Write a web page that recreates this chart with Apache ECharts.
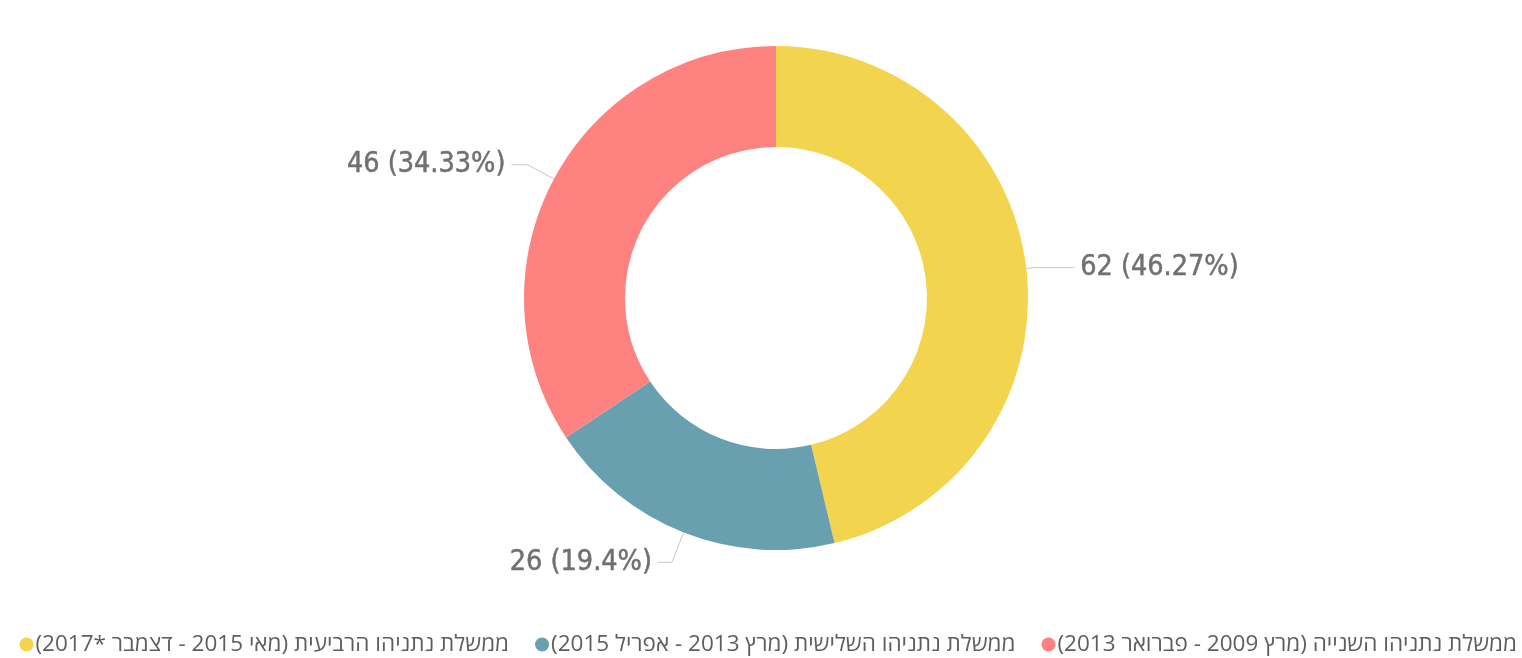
<!DOCTYPE html>
<html>
<head>
<meta charset="utf-8">
<script src="https://cdn.jsdelivr.net/npm/echarts@6/dist/echarts.min.js"></script>
<style>
html,body{margin:0;padding:0;background:#fff;}
#chart{width:1522px;height:658px;}
</style>
</head>
<body>
<div id="chart"></div>
<script>
const categories = [
  'ממשלת נתניהו הרביעית (מאי 2015 - דצמבר *2017)\u200F',
  'ממשלת נתניהו השלישית (מרץ 2013 - אפריל 2015)\u200F',
  'ממשלת נתניהו השנייה (מרץ 2009 - פברואר 2013)\u200F'
];
const values = [62, 26, 46];
const colors = ['#F3D44E', '#69A0B0', '#FD8280'];
const lineLengths = [[8, 40], [32, 14], [30, 16]];

const chart = echarts.init(document.getElementById('chart'));
chart.setOption({
  backgroundColor: '#ffffff',
  animation: false,
  legend: {
    top: 628,
    right: 0,
    padding: 5,
    itemGap: 26,
    itemWidth: 14,
    itemHeight: 14,
    icon: 'circle',
    textStyle: { fontFamily: 'Open Sans', fontSize: 22.5, color: '#605e5c', padding: [0, 0, 0, -3] },
    data: categories
  },
  series: [{
    type: 'pie',
    center: [776, 298],
    radius: [151, 252],
    startAngle: 90,
    clockwise: true,
    avoidLabelOverlap: false,
    label: {
      formatter: '{c} ({d}%)',
      fontFamily: 'DejaVu Sans Condensed',
      fontSize: 28.5,
      color: '#707070',
      textBorderColor: '#707070',
      textBorderWidth: 0.5,
      distanceToLabelLine: 6
    },
    labelLine: { lineStyle: { color: '#c8c8c8', width: 1 } },
    data: categories.map((n, i) => ({
      name: n,
      value: values[i],
      itemStyle: { color: colors[i] },
      labelLine: { length: lineLengths[i][0], length2: lineLengths[i][1] }
    }))
  }]
});
</script>
</body>
</html>
